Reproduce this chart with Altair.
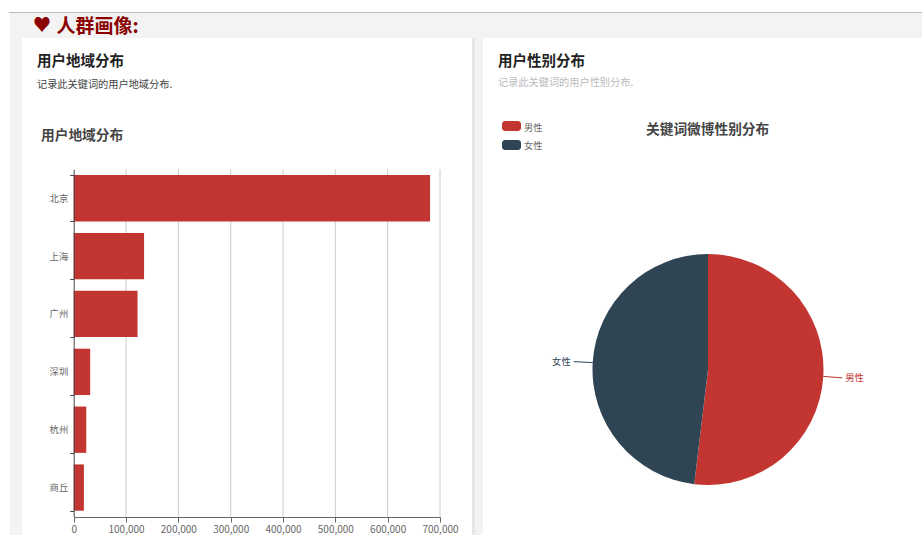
import math
import altair as alt
import pandas as pd

FONT = "Noto Sans CJK SC"
RED = "#c23531"
NAVY = "#2f4554"

# Regional distribution
cities = ["北京", "上海", "广州", "深圳", "杭州", "商丘"]
city_users = [681000, 134500, 122000, 31500, 24000, 19500]
x_ticks = [0, 100000, 200000, 300000, 400000, 500000, 600000, 700000]

# Gender distribution
genders = ["男性", "女性"]
gender_share = [51.9, 48.1]
gender_colors = [RED, NAVY]

# Page text: string, x, y, size, weight, colour
page_text = [
    ("♥", 33, 26, 18, "normal", "#8b0000"),
    ("人群画像:", 56.5, 27, 19, "bold", "#8b0000"),
    ("用户地域分布", 37, 62, 14.5, "bold", "#222222"),
    ("记录此关键词的用户地域分布.", 37, 85, 10.2, "normal", "#444444"),
    ("用户地域分布", 41, 135.5, 13.7, "bold", "#444444"),
    ("用户性别分布", 498, 62, 14.5, "bold", "#222222"),
    ("记录此关键词的用户性别分布.", 498, 83, 10.2, "normal", "#bbbbbb"),
    ("关键词微博性别分布", 646, 129.5, 13.7, "bold", "#444444"),
    ("男性", 524, 127.5, 9.2, "normal", "#666666"),
    ("女性", 524, 145.5, 9.2, "normal", "#666666"),
]

# Page furniture: x, x2, y, y2, colour
page_blocks = [
    (10, 922, 13, 535, "#f3f3f3"),
    (9, 922, 12, 13, "#bbbbbb"),
    (472, 475, 38, 535, "#e6e6e6"),
    (22, 472, 38, 535, "#ffffff"),
    (483, 922, 38, 535, "#ffffff"),
]

PLOT_X = [73.7, 440]
PLOT_Y = [169.3, 516.5]
PIE_X, PIE_Y, PIE_R = 708, 369.5, 115.5

dummy = pd.DataFrame({"k": [0]})


def block(x, x2, y, y2, color):
    return alt.Chart(dummy).mark_rect(color=color).encode(
        x=alt.value(x), x2=alt.value(x2), y=alt.value(y), y2=alt.value(y2)
    )


def label(text, x, y, size, weight, color, align="left"):
    return alt.Chart(dummy).mark_text(
        font=FONT, fontSize=size, fontWeight=weight, color=color,
        align=align, baseline="middle",
    ).encode(x=alt.value(x), y=alt.value(y), text=alt.value(text))


layers = [block(*b) for b in page_blocks]
layers += [label(*t) for t in page_text]

# Legend swatches for the pie
for swatch_y, color in zip([121, 140], gender_colors):
    layers.append(
        alt.Chart(dummy).mark_rect(color=color, cornerRadius=3).encode(
            x=alt.value(502), x2=alt.value(521),
            y=alt.value(swatch_y), y2=alt.value(swatch_y + 10),
        )
    )

x_scale = alt.Scale(domain=[0, 700000], range=PLOT_X, nice=False)
y_scale = alt.Scale(
    domain=cities, range=PLOT_Y, paddingInner=0.2, paddingOuter=0.1
)

grid = alt.Chart(pd.DataFrame({"v": x_ticks[1:]})).mark_rule(
    color="#cccccc", strokeWidth=1
).encode(
    x=alt.X("v:Q", scale=x_scale, axis=None),
    y=alt.value(PLOT_Y[0]),
    y2=alt.value(517),
)

bars = alt.Chart(pd.DataFrame({"city": cities, "users": city_users})).mark_bar(
    color=RED
).encode(
    x=alt.X(
        "users:Q", scale=x_scale,
        axis=alt.Axis(
            title=None, orient="bottom", offset=-18, values=x_ticks, format=",d",
            grid=False, labelFont=FONT, labelFontSize=10, labelColor="#666666",
            labelFlush=False, labelOverlap=False, labelPadding=2,
            domainColor="#666666", tickColor="#666666", tickSize=5, zindex=1,
        ),
    ),
    y=alt.Y(
        "city:N", scale=y_scale, sort=cities,
        axis=alt.Axis(
            title=None, orient="left", offset=-73.7, grid=False, tickBand="extent",
            labelFont=FONT, labelFontSize=9.3, labelColor="#666666", labelPadding=2,
            domainColor="#444444", tickColor="#444444", tickSize=4, zindex=1,
        ),
    ),
)

pie = alt.Chart(
    pd.DataFrame({"gender": genders, "share": gender_share, "rank": [0, 1]})
).mark_arc(outerRadius=PIE_R).encode(
    theta=alt.Theta("share:Q", stack=True),
    order=alt.Order("rank:O"),
    color=alt.Color(
        "gender:N", legend=None,
        scale=alt.Scale(domain=genders, range=gender_colors),
    ),
    x=alt.value(PIE_X),
    y=alt.value(PIE_Y),
)

layers += [grid, bars, pie]

# Slice leaders start at each slice's mid angle, on the rim
start = 0.0
total = sum(gender_share)
for name, share, color in zip(genders, gender_share, gender_colors):
    mid = 2 * math.pi * (start + share / 2) / total
    start += share
    rim_x = PIE_X + PIE_R * math.sin(mid)
    rim_y = PIE_Y - PIE_R * math.cos(mid)
    side = 1 if math.sin(mid) > 0 else -1
    end_x = rim_x + side * 19
    end_y = rim_y + (1.5 if side > 0 else -1)
    layers.append(
        alt.Chart(dummy).mark_rule(color=color, strokeWidth=1).encode(
            x=alt.value(rim_x), x2=alt.value(end_x),
            y=alt.value(rim_y), y2=alt.value(end_y),
        )
    )
    layers.append(
        label(name, end_x + side * 3, end_y + 0.5, 9.3, "normal", color,
              "left" if side > 0 else "right")
    )

chart = (
    alt.layer(*layers)
    .resolve_scale(x="independent", y="independent", theta="independent", color="independent")
    .properties(width=922, height=535, padding=0, background="#ffffff",
                autosize=alt.AutoSizeParams(type="none"))
    .configure_view(stroke=None)
)

chart.save("out.html", embed_options={"renderer": "svg", "actions": False})
